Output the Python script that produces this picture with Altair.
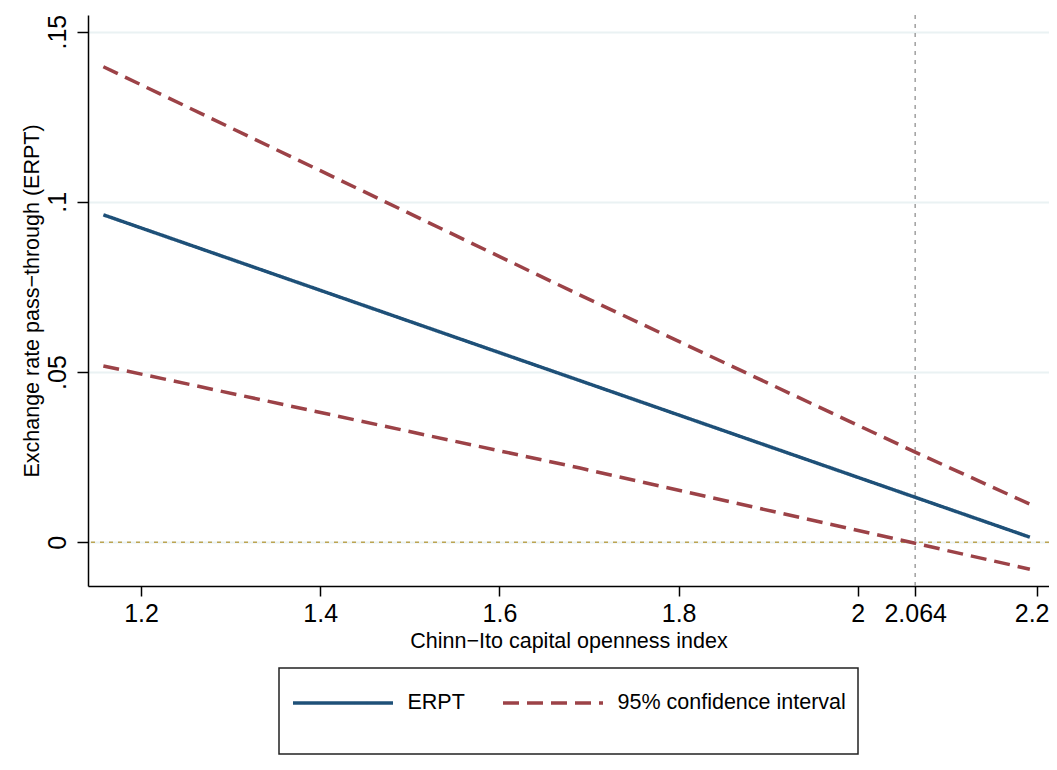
import altair as alt
import pandas as pd

# ---- data ----
erpt_x = [1.158, 2.192]
erpt_y = [0.0962, 0.0015]
ci_x = [1.158, 1.690, 2.064, 2.192]
ci_upper = [0.1397, 0.0726, 0.0265, 0.0112]
ci_lower = [0.0518, 0.0218, -0.0003, -0.0079]

x_ticks = [1.2, 1.4, 1.6, 1.8, 2.0, 2.064, 2.2]
x_tick_labels = ["1.2", "1.4", "1.6", "1.8", "2", "2.064", "2.2"]
y_ticks = [0.0, 0.05, 0.1, 0.15]
y_tick_labels = ["0", ".05", ".1", ".15"]

series_names = ["ERPT", "95% confidence interval"]
zero_line = [0.0]
threshold_line = [2.064]

FONT = "Liberation Sans"
BLUE = "#1e5078"
RED = "#9c4247"

rows = []
for x, y in zip(erpt_x, erpt_y):
    rows.append({"x": x, "y": y, "series": series_names[0], "line": "erpt"})
for x, y in zip(ci_x, ci_upper):
    rows.append({"x": x, "y": y, "series": series_names[1], "line": "upper"})
for x, y in zip(ci_x, ci_lower):
    rows.append({"x": x, "y": y, "series": series_names[1], "line": "lower"})
df = pd.DataFrame(rows)


def label_expr(values, labels):
    expr = "''"
    for v, l in reversed(list(zip(values, labels))):
        expr = f"abs(datum.value - {v}) < 1e-9 ? '{l}' : ({expr})"
    return expr


x_scale = alt.Scale(domain=[1.14085, 2.21336], nice=False, zero=False)
y_scale = alt.Scale(domain=[-0.01284, 0.1549], nice=False, zero=False)

x_axis = alt.Axis(
    values=x_ticks, labelExpr=label_expr(x_ticks, x_tick_labels),
    grid=False, domainColor="black", domainWidth=1.5,
    tickColor="black", tickWidth=1.5, tickSize=10,
    labelFont=FONT, labelFontSize=25, labelColor="black", labelPadding=5,
    labelFlush=20, labelFlushOffset=12, labelOverlap=False,
    title="Chinn\u2212Ito capital openness index",
    titleFont=FONT, titleFontSize=21.5, titleFontWeight="normal", titleColor="black",
    titleBaseline="alphabetic", titleY=61,
)
y_axis = alt.Axis(
    values=y_ticks, labelExpr=label_expr(y_ticks, y_tick_labels),
    grid=True, gridColor="#eaf2f3", gridWidth=2,
    domainColor="black", domainWidth=1.5,
    tickColor="black", tickWidth=1.5, tickSize=11,
    labelFont=FONT, labelFontSize=25, labelColor="black", labelPadding=12,
    labelAngle=270, labelAlign="center", labelBaseline="alphabetic",
    labelFlush=False, labelOverlap=False,
    title="Exchange rate pass\u2212through (ERPT)",
    titleFont=FONT, titleFontSize=21.5, titleFontWeight="normal", titleColor="black",
    titleAngle=270, titleAlign="center", titleBaseline="alphabetic",
    titleX=-50, titleY=285.5,
)

legend = alt.Legend(
    title=" ", titleOrient="bottom", titleFontSize=10, titlePadding=6,
    orient="none", legendX=191, legendY=653,
    direction="horizontal", columns=2,
    symbolType="M-4.762,0H4.762", symbolSize=441, symbolStrokeWidth=3.5,
    symbolOffset=39.5, labelOffset=52, clipHeight=46,
    labelFont=FONT, labelFontSize=21.5, labelColor="black", labelLimit=400,
)

color = alt.Color("series:N", scale=alt.Scale(domain=series_names, range=[BLUE, RED]), legend=legend)
dash = alt.StrokeDash("series:N", scale=alt.Scale(domain=series_names, range=[[1, 0], [16, 8]]), legend=legend)

base_x = alt.X("x:Q", scale=x_scale, axis=x_axis)
base_y = alt.Y("y:Q", scale=y_scale, axis=y_axis)

zero_rule = alt.Chart(pd.DataFrame({"y": zero_line})).mark_rule(
    color="#bca452", strokeWidth=1.4, strokeDash=[4, 5]
).encode(y=base_y)

vert_rule = alt.Chart(pd.DataFrame({"x": threshold_line})).mark_rule(
    color="#999999", strokeWidth=1.4, strokeDash=[4, 5]
).encode(x=base_x)

lines = alt.Chart(df).mark_line(strokeWidth=3.5).encode(
    x=base_x, y=base_y, color=color, strokeDash=dash, detail="line:N"
)

chart = alt.layer(zero_rule, vert_rule, lines).properties(
    width=961, height=571,
    autosize=alt.AutoSizeParams(type="none"),
    padding={"left": 80, "top": 7, "right": 0, "bottom": 174},
    background="white",
).configure_view(
    stroke="transparent"
).configure_legend(
    padding=12, strokeColor="#222222", strokeWidth=1.5, fillColor="white",
    columnPadding=36,
)

chart.save("out.html", embed_options={"renderer": "svg", "actions": False})
